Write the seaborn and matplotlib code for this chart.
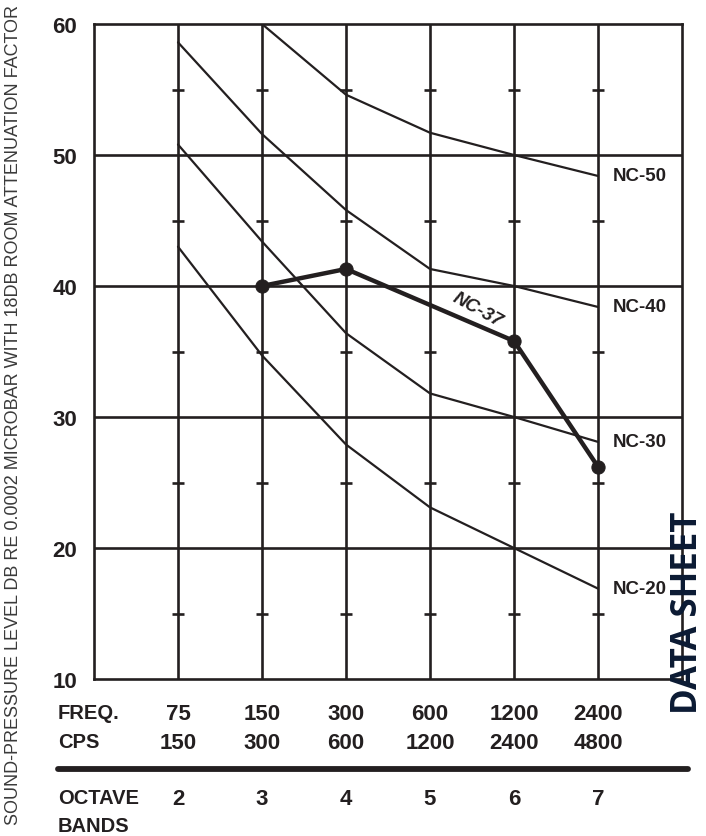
import matplotlib.pyplot as plt
import matplotlib.lines as mlines
import numpy as np
import pandas as pd
import seaborn as sns

# octave bands and their frequency ranges
bands = [2, 3, 4, 5, 6, 7]
freq_low = ["75", "150", "300", "600", "1200", "2400"]
freq_high = ["150", "300", "600", "1200", "2400", "4800"]

# NC curves (dB)
nc50_bands = [3, 4, 5, 6, 7]
nc50 = [60.0, 54.6, 51.7, 50.0, 48.4]
nc40 = [58.6, 51.6, 45.8, 41.3, 40.0, 38.4]
nc30 = [50.8, 43.4, 36.4, 31.8, 30.0, 28.1]
nc20 = [43.0, 34.7, 27.9, 23.1, 20.0, 16.9]

# measured curve
nc37_bands = [3, 4, 6, 7]
nc37 = [40.0, 41.3, 35.8, 26.2]

curve_labels = ["NC-50", "NC-40", "NC-30", "NC-20"]
y_ticks = [10, 20, 30, 40, 50, 60]
half_ticks = [15, 25, 35, 45, 55]

ink = "#231f20"
sans = ["Liberation Sans", "DejaVu Sans"]

sns.set_style("white")
plt.rcParams["font.family"] = sans

fig = plt.figure(figsize=(7.06, 8.37), dpi=100)
ax = fig.add_axes([94 / 706, 1 - 680 / 837, (682 - 94) / 706, (680 - 25) / 837])

df = pd.concat([
    pd.DataFrame({"band": nc50_bands, "level": nc50, "curve": "NC-50"}),
    pd.DataFrame({"band": bands, "level": nc40, "curve": "NC-40"}),
    pd.DataFrame({"band": bands, "level": nc30, "curve": "NC-30"}),
    pd.DataFrame({"band": bands, "level": nc20, "curve": "NC-20"}),
])

# grid
for b in bands:
    ax.axvline(b, color=ink, lw=1.9, zorder=1)
for y in y_ticks[1:-1]:
    ax.axhline(y, color=ink, lw=1.9, zorder=1)
for b in bands:
    ax.plot([b] * len(half_ticks), half_ticks, ls="none", marker="_",
            ms=9, mew=1.9, color=ink, zorder=1)

sns.lineplot(data=df, x="band", y="level", units="curve", estimator=None,
             color=ink, lw=1.6, ax=ax, zorder=2)
sns.lineplot(x=nc37_bands, y=nc37, color=ink, lw=3.2, marker="o", ms=9.5,
             mec=ink, ax=ax, zorder=3)

# curve labels at the right
for lab, vals in zip(curve_labels, [nc50, nc40, nc30, nc20]):
    ax.text(7.18, vals[-1], lab, fontsize=13.5, fontweight="bold", color=ink,
            va="center", ha="left")
ax.text(5.57, 38.2, "NC-37", fontsize=13.5, fontweight="bold", color=ink,
        style="italic", rotation=-29, ha="center", va="center")

ax.set_xlim(1, 8)
ax.set_ylim(10, 60)
ax.set_xticks([])
ax.set_yticks(y_ticks)
ax.set_yticklabels([str(v) for v in y_ticks], fontsize=16, fontweight="bold",
                   color=ink)
ax.tick_params(axis="y", length=0, pad=12)
ax.set_xlabel("")
ax.set_ylabel("")
for s in ax.spines.values():
    s.set_color(ink)
    s.set_linewidth(1.9)

# frequency rows under the plot
xt = ax.get_xaxis_transform()
for b, lo, hi in zip(bands, freq_low, freq_high):
    ax.text(b, -0.053, lo, transform=xt, ha="center", va="center",
            fontsize=16, fontweight="bold", color=ink)
    ax.text(b, -0.097, hi, transform=xt, ha="center", va="center",
            fontsize=16, fontweight="bold", color=ink)
    ax.text(b, -0.182, str(b), transform=xt, ha="center", va="center",
            fontsize=16, fontweight="bold", color=ink)

for label, ypix in [("FREQ.", 714), ("CPS", 743), ("OCTAVE", 799), ("BANDS", 827)]:
    fig.text(58 / 706, 1 - ypix / 837, label, fontsize=14.5, fontweight="bold",
             color=ink, va="center")
fig.add_artist(mlines.Line2D([58 / 706, 688 / 706], [1 - 770 / 837] * 2,
                             color=ink, lw=4.2))

fig.text(14 / 706, 1 - 415 / 837,
         "SOUND-PRESSURE LEVEL DB RE 0.0002 MICROBAR WITH 18DB ROOM ATTENUATION FACTOR",
         rotation=90, fontsize=13, color="#3a3a3a", ha="center", va="center")

fig.text(688 / 706, 1 - 613 / 837, "DATA SHEET", rotation=90, fontsize=25,
         fontweight="bold", color="#0b1a33", ha="center", va="center",
         family=["Open Sans", "DejaVu Sans"])

fig.savefig("out.png", dpi=100)
